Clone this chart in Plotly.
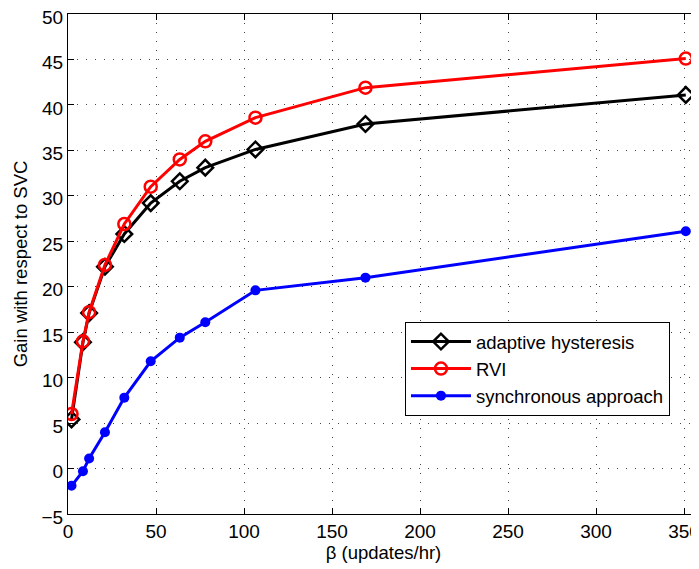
import plotly.graph_objects as go

beta = [2, 8.5, 12, 21, 32, 47, 63.5, 78, 106.5, 169, 351]
adaptive = [5.4, 13.9, 17.1, 22.2, 25.8, 29.2, 31.6, 33.1, 35.1, 37.9, 41.1]
rvi = [6.0, 14.0, 17.2, 22.4, 26.9, 31.0, 34.0, 36.0, 38.6, 41.9, 45.1]
sync = [-1.9, -0.3, 1.1, 4.0, 7.8, 11.8, 14.4, 16.1, 19.6, 21.0, 26.1]

names = ["adaptive hysteresis", "RVI", "synchronous approach"]
xticks = [0, 50, 100, 150, 200, 250, 300, 350]
yticks = list(range(-5, 51, 5))

FONT = "Liberation Sans, Arial, Helvetica, sans-serif"

fig = go.Figure()
fig.add_trace(go.Scatter(
    x=beta, y=adaptive, name=names[0], mode="lines+markers",
    line=dict(color="black", width=3),
    marker=dict(symbol="diamond-open", size=12, color="black", line=dict(width=2.5)),
))
fig.add_trace(go.Scatter(
    x=beta, y=rvi, name=names[1], mode="lines+markers",
    line=dict(color="#ff0000", width=3),
    marker=dict(symbol="circle-open", size=12, color="#ff0000", line=dict(width=2.5)),
))
fig.add_trace(go.Scatter(
    x=beta, y=sync, name=names[2], mode="lines+markers",
    line=dict(color="#0000ff", width=3),
    marker=dict(symbol="circle", size=10, color="#0000ff"),
))

axis_common = dict(
    showline=True, linecolor="black", linewidth=1.2, mirror="ticks",
    ticks="inside", ticklen=6, tickcolor="black", tickwidth=1,
    showgrid=True, gridcolor="#444444", gridwidth=1, griddash="1px,8px",
    zeroline=False, tickfont=dict(family=FONT, size=19, color="black"),
    automargin=False, ticklabeloverflow="allow",
)

fig.update_xaxes(
    range=[0, 358.5], tickvals=xticks, ticktext=[str(v) for v in xticks],
    title=dict(text="β (updates/hr)", font=dict(family=FONT, size=18.5, color="black"), standoff=0),
    **axis_common,
)
fig.update_yaxes(
    range=[-5, 50], tickvals=yticks, ticktext=[str(v).replace("-", "\u2212") for v in yticks],
    ticklabelshift=3,
    title=dict(text="Gain with respect to SVC", font=dict(family=FONT, size=18.5, color="black"), standoff=8),
    **axis_common,
)

fig.update_layout(
    width=691, height=561,
    margin=dict(l=60, r=0, t=6, b=55),
    plot_bgcolor="white", paper_bgcolor="white",
    font=dict(family=FONT, size=19, color="black"),
    legend=dict(
        x=0.744, y=0.384, xanchor="center", yanchor="top",
        bgcolor="white", bordercolor="black", borderwidth=1,
        font=dict(family=FONT, size=18.5, color="black"),
        itemwidth=60, tracegroupgap=0,
    ),
    showlegend=True,
)

fig.write_html("out.html")
